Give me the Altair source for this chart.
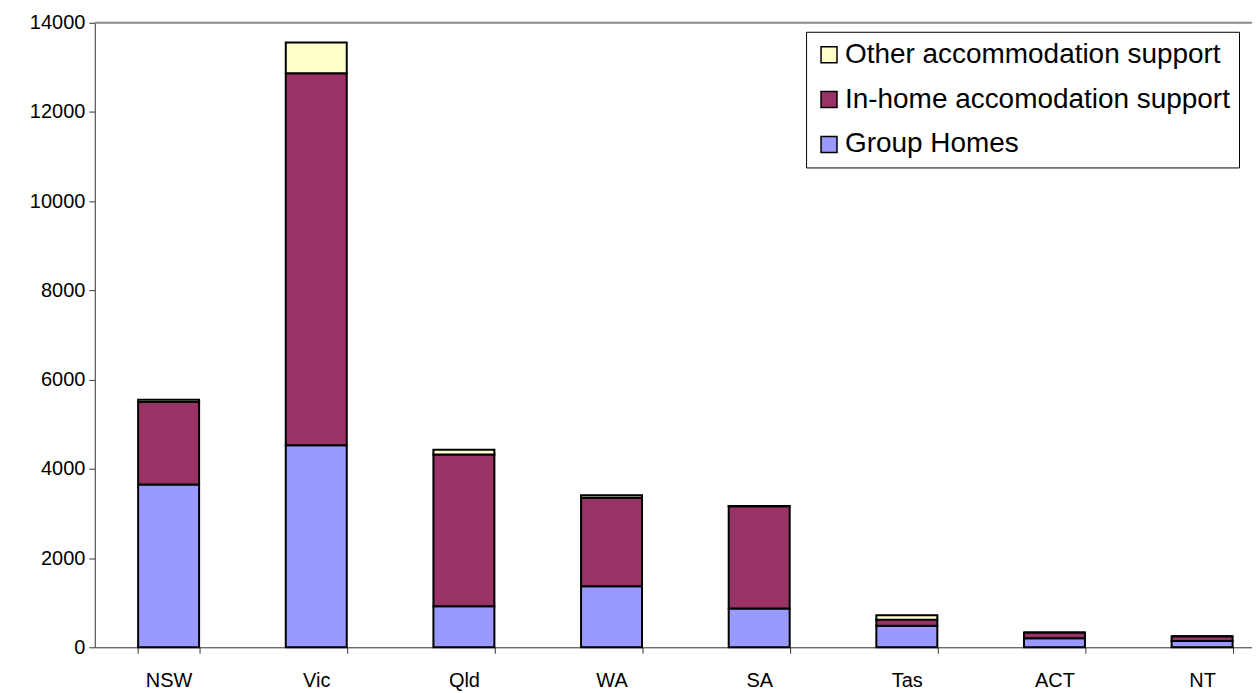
import altair as alt
import pandas as pd

states = ["NSW", "Vic", "Qld", "WA", "SA", "Tas", "ACT", "NT"]
group_homes = [3650, 4530, 920, 1370, 870, 480, 200, 140]
in_home = [1850, 8340, 3400, 1980, 2290, 140, 130, 110]
other = [50, 690, 110, 60, 10, 100, 0, 0]

series_names = ["Group Homes", "In-home accomodation support", "Other accommodation support"]
series_values = [group_homes, in_home, other]
colors = ["#9999FF", "#993366", "#FFFFCC"]

rows = []
for si, (name, vals) in enumerate(zip(series_names, series_values)):
    for st, v in zip(states, vals):
        rows.append({"State": st, "Series": name, "Value": v, "order": si})
df = pd.DataFrame(rows)

legend_order = list(reversed(series_names))
legend_colors = list(reversed(colors))

FONT = "Liberation Sans"

bars = alt.Chart(df).mark_bar(stroke="black", strokeWidth=2).encode(
    x=alt.X("State:N", sort=states, title=None,
            scale=alt.Scale(paddingInner=0.587, paddingOuter=0.2935, range=[0, 1184]),
            axis=alt.Axis(labelAngle=0, tickBand="extent", labelFontSize=20,
                          labelColor="black", domainColor="#333333", tickColor="#333333",
                          tickSize=6, labelPadding=17, labelFont=FONT)),
    y=alt.Y("Value:Q", title=None,
            scale=alt.Scale(domain=[0, 14000], nice=False),
            axis=alt.Axis(values=list(range(0, 14001, 2000)), format="d", grid=False,
                          labelFontSize=20, labelColor="black", domainColor="#333333",
                          tickColor="#333333", tickSize=6, labelPadding=4, labelFont=FONT)),
    color=alt.Color("Series:N", sort=legend_order,
                    scale=alt.Scale(domain=legend_order, range=legend_colors),
                    legend=alt.Legend(title=None, orient="none", legendX=713, legendY=9,
                                      symbolType="square", symbolSize=256,
                                      symbolStrokeColor="black", symbolStrokeWidth=1.5,
                                      labelFontSize=28, labelFont=FONT,
                                      labelColor="black", rowPadding=17,
                                      fillColor="white", strokeColor="black",
                                      padding=9, labelLimit=600, labelOffset=2)),
    order=alt.Order("order:Q", sort="ascending"),
)

top_line = alt.Chart(pd.DataFrame({"v": [14000]})).mark_rule(
    color="#888888", strokeWidth=2
).encode(y="v:Q")

chart = alt.layer(bars, top_line).properties(
    width=1160, height=626,
    padding={"left": 87, "top": 14, "right": 0, "bottom": 44},
    autosize=alt.AutoSizeParams(type="none"),
).configure_view(strokeWidth=0)

chart.save("out.html", embed_options={"renderer": "svg", "actions": False})
